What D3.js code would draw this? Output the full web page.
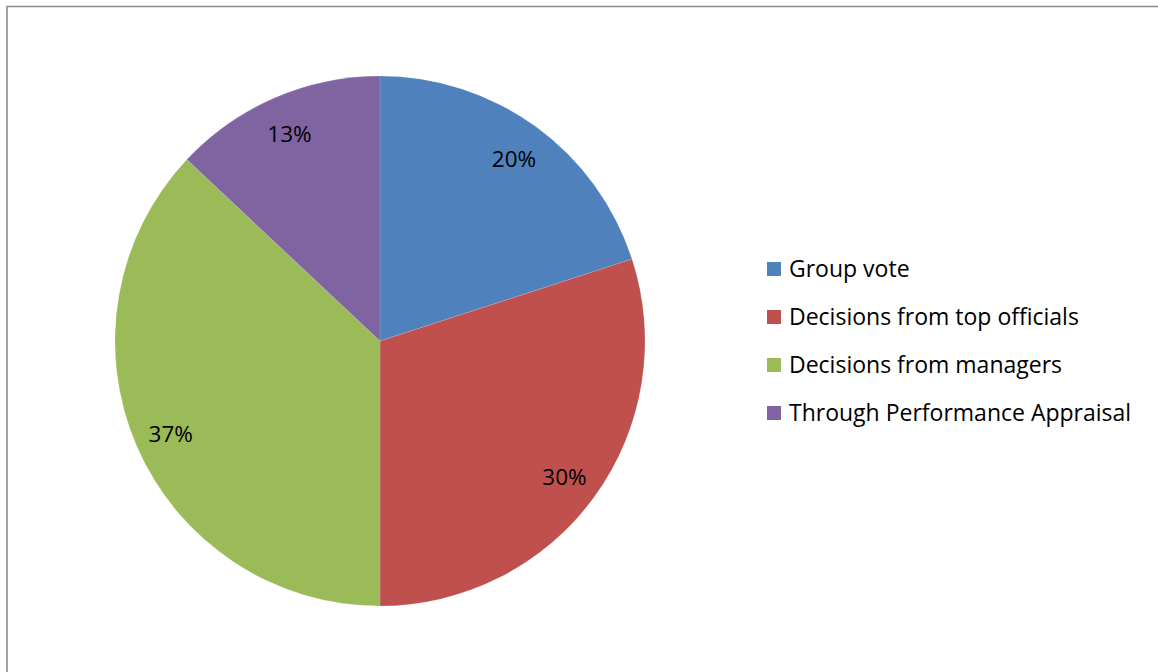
<!DOCTYPE html>
<html>
<head>
<meta charset="utf-8">
<script src="https://cdn.jsdelivr.net/npm/d3@7"></script>
<style>
  html, body { margin: 0; padding: 0; background: #ffffff; }
  svg { display: block; }
  text { font-family: "Open Sans", "Noto Sans", sans-serif; fill: #000; }
</style>
</head>
<body>
<svg id="chart" width="1158" height="672"></svg>
<script>
const categories = ["Group vote", "Decisions from top officials", "Decisions from managers", "Through Performance Appraisal"];
const values = [20, 30, 37, 13];
const colors = ["#4F81BD", "#C0504D", "#9BBB59", "#8064A2"];

const svg = d3.select("#chart");
const W = 1158, H = 672;

// chart border (top and left visible)
svg.append("path")
  .attr("d", `M7,${H + 2} L7,6.5 L${W + 2},6.5`)
  .attr("fill", "none")
  .attr("stroke", "#8c8c8c")
  .attr("stroke-width", 1.6);

const cx = 380, cy = 341, R = 265, labelR = 228;

const pie = d3.pie().sort(null).value(d => d.value);
const data = categories.map((c, i) => ({ name: c, value: values[i], color: colors[i] }));
const arcs = pie(data);
const arc = d3.arc().innerRadius(0).outerRadius(R);
const labelArc = d3.arc().innerRadius(labelR).outerRadius(labelR);
const total = d3.sum(values);

const g = svg.append("g").attr("transform", `translate(${cx},${cy})`);
g.selectAll("path.slice").data(arcs).join("path")
  .attr("class", "slice")
  .attr("d", arc)
  .attr("fill", d => d.data.color)
  .attr("stroke", "rgba(255,255,255,0.25)")
  .attr("stroke-width", 0.5);

g.selectAll("text.lbl").data(arcs).join("text")
  .attr("class", "lbl")
  .attr("transform", d => `translate(${labelArc.centroid(d)})`)
  .attr("text-anchor", "middle")
  .attr("dy", "0.45em")
  .attr("font-size", 22.5)
  .text(d => Math.round(d.data.value / total * 100) + "%");

// legend
const legend = svg.append("g").attr("transform", "translate(767,269)");
const rowH = 48;
const items = legend.selectAll("g").data(data).join("g")
  .attr("transform", (d, i) => `translate(0,${i * rowH})`);
items.append("rect")
  .attr("x", 0).attr("y", -7).attr("width", 14).attr("height", 14)
  .attr("fill", d => d.color);
items.append("text")
  .attr("x", 22).attr("y", 0).attr("dy", "0.36em")
  .attr("font-size", 23)
  .text(d => d.name);
</script>
</body>
</html>
